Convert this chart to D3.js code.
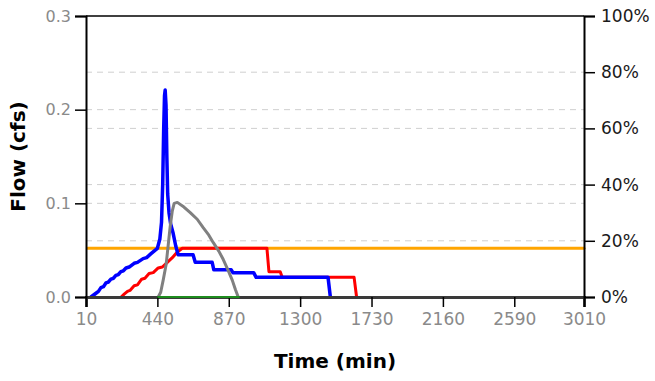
<!DOCTYPE html>
<html>
<head>
<meta charset="utf-8">
<script src="https://cdn.jsdelivr.net/npm/d3@7"></script>
<style>
body{margin:0;background:#fff;}
svg text{font-family:"DejaVu Sans",Verdana,sans-serif;}
</style>
</head>
<body>
<svg id="chart" width="655" height="381"></svg>
<script>
// axis ticks
var timeTicks=[10,440,870,1300,1730,2160,2590,3010];
var flowTicks=[0,0.1,0.2,0.3];
var pctTicks=[0,20,40,60,80,100];

// series, [time (min), flow (cfs)]
var blueFlow=[[40,0],[70,0.004],[85,0.006],[100,0.01],[115,0.011],[130,0.015],[145,0.016],[160,0.019],[175,0.02],[190,0.023],[205,0.024],[220,0.027],[235,0.028],[251,0.031],[270,0.032],[300,0.036],[320,0.037],[354,0.041],[375,0.042],[400,0.046],[420,0.049],[440,0.052],[455,0.062],[465,0.08],[472,0.12],[478,0.18],[483,0.215],[487,0.221],[492,0.205],[497,0.15],[502,0.11],[510,0.09],[520,0.078],[535,0.068],[550,0.055],[565,0.045],[655,0.045],[668,0.037],[770,0.037],[780,0.029],[885,0.029],[895,0.026],[1020,0.026],[1035,0.021],[1468,0.021],[1482,0]];
var redFlow=[[222,0],[240,0.003],[260,0.006],[275,0.007],[300,0.012],[320,0.013],[345,0.019],[365,0.02],[390,0.025],[415,0.026],[445,0.031],[470,0.032],[500,0.037],[530,0.042],[560,0.048],[590,0.052],[1100,0.052],[1112,0.027],[1180,0.027],[1192,0.021],[1625,0.021],[1640,0]];
var grayFlow=[[445,0],[460,0.005],[475,0.018],[493,0.035],[505,0.055],[517,0.075],[530,0.092],[541,0.1],[560,0.101],[600,0.096],[638,0.09],[680,0.083],[716,0.074],[750,0.066],[777,0.058],[810,0.049],[837,0.04],[865,0.029],[891,0.018],[910,0.008],[927,0]];
var greenFlow=[[440,0],[935,0]];
var orangeFlow=[[20,0.052],[3010,0.052]];

var width=655, height=381;
var margin={top:16,right:71,bottom:84,left:86};
var svg=d3.select("#chart");

var xScale=d3.scaleLinear().domain([10,3010]).range([margin.left,width-margin.right]);
var yScale=d3.scaleLinear().domain([0,0.3]).range([height-margin.bottom,margin.top]);
var pScale=d3.scaleLinear().domain([0,100]).range([height-margin.bottom,margin.top]);

// dashed grid lines from both axes
var gridY=flowTicks.filter(d=>d>0&&d<0.3).map(d=>yScale(d))
	.concat(pctTicks.filter(d=>d>0&&d<100).map(d=>pScale(d)));
svg.append("g")
	.selectAll("line")
	.data(gridY)
	.enter()
	.append("line")
	.attr("x1",margin.left)
	.attr("x2",width-margin.right)
	.attr("y1",d=>d)
	.attr("y2",d=>d)
	.attr("stroke","#cfcfcf")
	.attr("stroke-width",1)
	.attr("stroke-dasharray","6,5");

// top frame line
svg.append("line")
	.attr("x1",margin.left).attr("x2",width-margin.right)
	.attr("y1",margin.top).attr("y2",margin.top)
	.attr("stroke","#000").attr("stroke-width",1.5);

var line=d3.line()
	.x(d=>xScale(d[0]))
	.y(d=>yScale(d[1]));

var series=[
	{data:orangeFlow,color:"#ffa500",w:3},
	{data:redFlow,color:"#ff0000",w:3},
	{data:blueFlow,color:"#0000ff",w:3.5},
	{data:grayFlow,color:"#808080",w:3}
];

svg.append("g")
	.selectAll("path")
	.data(series)
	.enter()
	.append("path")
	.attr("d",d=>line(d.data))
	.attr("fill","none")
	.attr("stroke",d=>d.color)
	.attr("stroke-width",d=>d.w)
	.attr("stroke-linejoin","round")
	.attr("stroke-linecap","round");

// axes
var xAxis=d3.axisBottom(xScale).tickValues(timeTicks).tickSize(10).tickPadding(6).tickFormat(d3.format("d"));
var yAxis=d3.axisLeft(yScale).tickValues(flowTicks).tickSize(11).tickPadding(4).tickFormat(d3.format(".1f"));
var pAxis=d3.axisRight(pScale).tickValues(pctTicks).tickSize(11).tickPadding(6).tickFormat(d=>d+"%");

var gx=svg.append("g")
	.attr("transform","translate(0,"+(height-margin.bottom)+")")
	.call(xAxis);
gx.select(".domain").attr("stroke","#3a3a3a").attr("stroke-width",3);
gx.selectAll(".tick line").attr("stroke","#000").attr("stroke-width",1.5);
gx.selectAll("text").attr("fill","#8a8a8a").attr("font-size","17px");

var gy=svg.append("g")
	.attr("transform","translate("+margin.left+",0)")
	.call(yAxis);
gy.select(".domain").attr("stroke","#000").attr("stroke-width",2);
gy.selectAll(".tick line").attr("stroke","#000").attr("stroke-width",1.5);
gy.selectAll("text").attr("fill","#8a8a8a").attr("font-size","16px");

var gp=svg.append("g")
	.attr("transform","translate("+(width-margin.right)+",0)")
	.call(pAxis);
gp.select(".domain").attr("stroke","#000").attr("stroke-width",2);
gp.selectAll(".tick line").attr("stroke","#000").attr("stroke-width",1.5);
gp.selectAll("text").attr("fill","#1a1a1a").attr("font-size","17px");

// green zero series sits on the x axis line
svg.append("path")
	.attr("d",line(greenFlow))
	.attr("fill","none")
	.attr("stroke","#1e8c1e")
	.attr("stroke-width",2);

// axis titles
svg.append("text")
	.attr("x",(margin.left+width-margin.right)/2)
	.attr("y",368)
	.attr("text-anchor","middle")
	.attr("font-weight","bold")
	.attr("font-size","20px")
	.attr("fill","#000")
	.text("Time (min)");

svg.append("text")
	.attr("transform","translate(25,"+((margin.top+height-margin.bottom)/2)+") rotate(-90)")
	.attr("text-anchor","middle")
	.attr("font-weight","bold")
	.attr("font-size","20px")
	.attr("fill","#000")
	.text("Flow (cfs)");
</script>
</body>
</html>
